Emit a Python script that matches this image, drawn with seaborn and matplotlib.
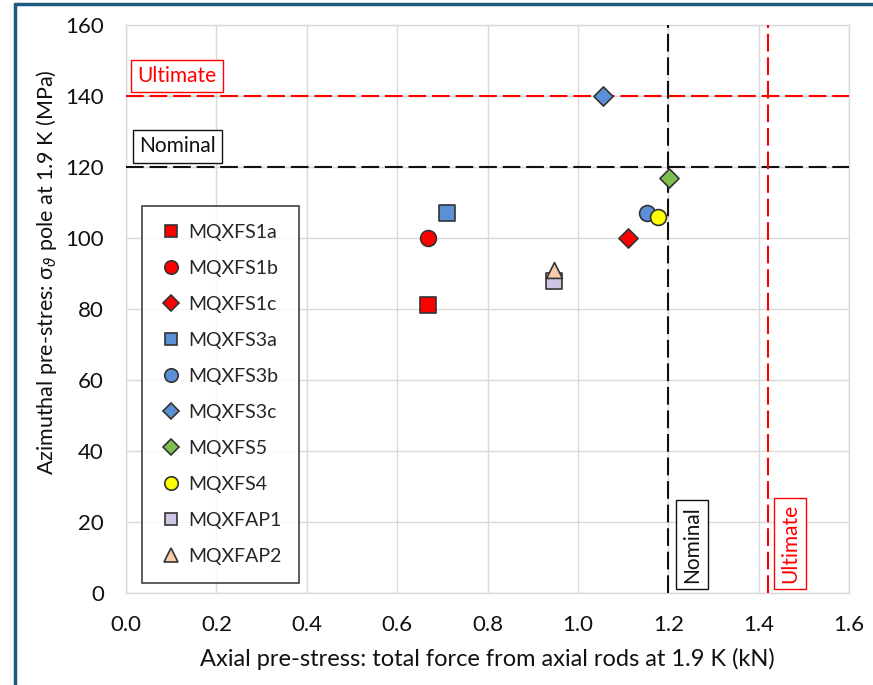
import matplotlib
matplotlib.use("Agg")
import matplotlib.pyplot as plt
import seaborn as sns
import pandas as pd
from matplotlib.lines import Line2D

magnets = ["MQXFS1a", "MQXFS1b", "MQXFS1c", "MQXFS3a", "MQXFS3b",
           "MQXFS3c", "MQXFS5", "MQXFS4", "MQXFAP1", "MQXFAP2"]
axial_force = [0.668, 0.668, 1.112, 0.710, 1.152, 1.055, 1.202, 1.178, 0.948, 0.948]
azimuthal_stress = [81, 100, 100, 107, 107, 140, 117, 106, 88, 91]
colors = ["#FF0000", "#FF0000", "#FF0000", "#5B8FD6", "#5B8FD6", "#5B8FD6",
          "#7EC050", "#FFFF00", "#CFC5E3", "#F9CBAD"]
markers = ["s", "o", "D", "s", "o", "D", "D", "o", "s", "^"]
sizes = [120, 130, 95, 120, 130, 95, 95, 130, 120, 130]

nominal_x, ultimate_x = 1.2, 1.42
nominal_y, ultimate_y = 120, 140

df = pd.DataFrame({"magnet": magnets, "x": axial_force, "y": azimuthal_stress})

sns.set_theme(style="whitegrid")
plt.rcParams["font.family"] = ["Lato", "DejaVu Sans"]
plt.rcParams["mathtext.fontset"] = "custom"
plt.rcParams["mathtext.rm"] = "Lato"
plt.rcParams["mathtext.it"] = "DejaVu Sans:italic"

fig = plt.figure(figsize=(8.73, 6.85), dpi=100)
ax = fig.add_axes([126 / 873, 1 - 593 / 685, 723 / 873, 568 / 685])

palette = dict(zip(magnets, colors))
mk = dict(zip(magnets, markers))
sz = dict(zip(magnets, sizes))
for m in magnets:
    sub = df[df.magnet == m]
    sns.scatterplot(data=sub, x="x", y="y", marker=mk[m], color=palette[m],
                    s=sz[m], edgecolor="#333333", linewidth=1.2, ax=ax, zorder=5)

dash = (0, (8.5, 2.8))
ax.axhline(ultimate_y, color="#FF0000", lw=1.5, ls=dash, zorder=3)
ax.axhline(nominal_y, color="#111111", lw=1.5, ls=dash, zorder=3)
ax.axvline(nominal_x, color="#111111", lw=1.5, ls=dash, zorder=3)
ax.axvline(ultimate_x, color="#FF0000", lw=1.5, ls=dash, zorder=3)

xt = [0, 0.2, 0.4, 0.6, 0.8, 1.0, 1.2, 1.4, 1.6]
ax.set_xlim(0, 1.6)
ax.set_ylim(0, 160)
ax.set_xticks(xt)
ax.set_xticklabels([f"{v:.1f}" for v in xt])
ax.set_yticks(range(0, 161, 20))
ax.grid(True, color="#D9D9D9", lw=1)
for s in ax.spines.values():
    s.set_color("#D9D9D9")
    s.set_linewidth(1)
ax.tick_params(axis="both", labelsize=16, colors="#111111", length=0)
ax.tick_params(axis="y", pad=16)
ax.tick_params(axis="x", pad=16)

ax.set_xlabel("Axial pre-stress: total force from axial rods at 1.9 K (kN)",
              fontsize=17, color="#111111", labelpad=9)
ax.set_ylabel(r"Azimuthal pre-stres: σ$_{\vartheta}$ pole at 1.9 K (MPa)",
              fontsize=15.5, color="#111111")
ax.yaxis.set_label_coords(-0.092, 0.565)

bb = dict(boxstyle="square,pad=0.3", fc="white", lw=1)
ax.text(0.025, 145.6, "Ultimate", color="#FF0000", fontsize=15, ha="left", va="center",
        bbox=dict(bb, ec="#FF0000"))
ax.text(0.029, 125.8, "Nominal", color="#111111", fontsize=15, ha="left", va="center",
        bbox=dict(bb, ec="#111111"))
ax.text(1.2525, 2.8, "Nominal", color="#111111", fontsize=15, ha="center", va="bottom",
        rotation=90, bbox=dict(bb, ec="#111111"))
ax.text(1.469, 2.8, "Ultimate", color="#FF0000", fontsize=15, ha="center", va="bottom",
        rotation=90, bbox=dict(bb, ec="#FF0000"))

handles = [Line2D([], [], ls="none", marker=mk[m], markerfacecolor=palette[m],
                  markeredgecolor="#333333", markeredgewidth=1.2,
                  markersize=(sz[m] ** 0.5) * 0.85, label=m) for m in magnets]
leg = ax.legend(handles=handles, loc="lower left", bbox_to_anchor=(0.022, 0.018),
                frameon=True, fancybox=False, fontsize=14, labelspacing=0.98,
                handletextpad=0.3, handlelength=1.2, borderpad=0.9,
                borderaxespad=0)
leg.get_frame().set_edgecolor("#111111")
leg.get_frame().set_linewidth(1.2)
leg.set_zorder(10)

border = "#1F5A80"
fig.add_artist(Line2D([15 / 873, 15 / 873], [0, 1 - 4 / 685], transform=fig.transFigure,
                      color=border, lw=2.5))
fig.add_artist(Line2D([15 / 873, 1], [1 - 4 / 685, 1 - 4 / 685], transform=fig.transFigure,
                      color=border, lw=2.5))

fig.savefig("out.png", dpi=100, facecolor="white")
